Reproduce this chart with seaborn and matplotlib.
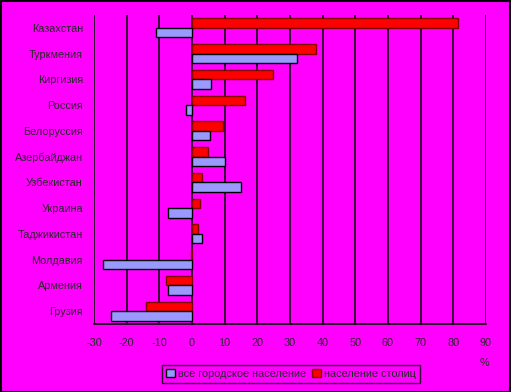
import matplotlib
matplotlib.use("Agg")
import matplotlib.pyplot as plt
import seaborn as sns
import pandas as pd
from matplotlib.patches import Patch, Rectangle

countries = ["Казахстан", "Туркмения", "Киргизия", "Россия", "Белоруссия",
             "Азербайджан", "Узбекистан", "Украина", "Таджикистан",
             "Молдавия", "Армения", "Грузия"]
urban_all = [-11.0, 32.0, 5.7, -1.7, 5.6, 10.0, 14.9, -7.3, 3.2, -27.2, -7.3, -24.7]
capitals = [81.3, 37.9, 24.7, 16.1, 9.6, 4.8, 3.2, 2.3, 1.7, -0.4, -7.9, -14.0]
series_names = ["все городское население", "население столиц"]
xticks = list(range(-30, 100, 10))

df = pd.DataFrame({
    "country": countries * 2,
    "value": capitals + urban_all,
    "series": [series_names[1]] * len(countries) + [series_names[0]] * len(countries),
})

sns.set_style("white")
plt.rcParams["font.family"] = ["Liberation Sans", "DejaVu Sans"]

fig = plt.figure(figsize=(5.11, 3.92), dpi=100)
fig.patch.set_facecolor("#FF00FF")
ax = fig.add_axes([94 / 511, 1 - 324 / 392, (486 - 94) / 511, (324 - 15) / 392])
ax.set_facecolor("#FF00FF")

palette = {series_names[0]: "#9999FF", series_names[1]: "#FF0000"}
sns.barplot(data=df, y="country", x="value", hue="series",
            hue_order=[series_names[1], series_names[0]], order=countries,
            palette=palette, orient="h", width=0.74, ax=ax,
            edgecolor="black", linewidth=1.0, saturation=1, legend=False, zorder=3)
for p in ax.patches:
    if p.get_facecolor()[0] > 0.99 and p.get_facecolor()[1] < 0.01:
        p.set_edgecolor("#800000")

ax.set_xlim(-30, 90)
ax.set_xticks(xticks)
ax.set_xticklabels([str(t) for t in xticks], fontsize=7.8)
ax.tick_params(axis="x", length=0, pad=10)
ax.tick_params(axis="y", length=0, pad=8, labelsize=7.8)
ax.set_xlabel("")
ax.set_ylabel("")
for x in xticks:
    ax.axvline(x, color="black", lw=1.1, zorder=1)
for s in ["top", "right", "left"]:
    ax.spines[s].set_visible(False)
ax.spines["bottom"].set_color("black")
ax.spines["bottom"].set_linewidth(1.2)

fig.text(484 / 511, 1 - 363 / 392, "%", fontsize=7.8, ha="center", va="center")

handles = [Patch(facecolor="#9999FF", edgecolor="black"),
           Patch(facecolor="#FF0000", edgecolor="#800000")]
leg = fig.legend(handles, series_names, loc="center",
                 bbox_to_anchor=(291 / 511, 1 - 374 / 392), ncol=2, fontsize=7.8,
                 frameon=True, fancybox=False, edgecolor="black",
                 facecolor="#FF00FF", handlelength=0.8, handleheight=0.8,
                 handletextpad=0.3, columnspacing=0.6, borderpad=0.35,
                 borderaxespad=0)
leg.get_frame().set_linewidth(1.0)

fig.patches.append(Rectangle((0.001, 0.001), 0.997, 0.997, transform=fig.transFigure,
                             fill=False, edgecolor="black", lw=1.5))

fig.savefig("out.png", dpi=100, facecolor=fig.get_facecolor())
